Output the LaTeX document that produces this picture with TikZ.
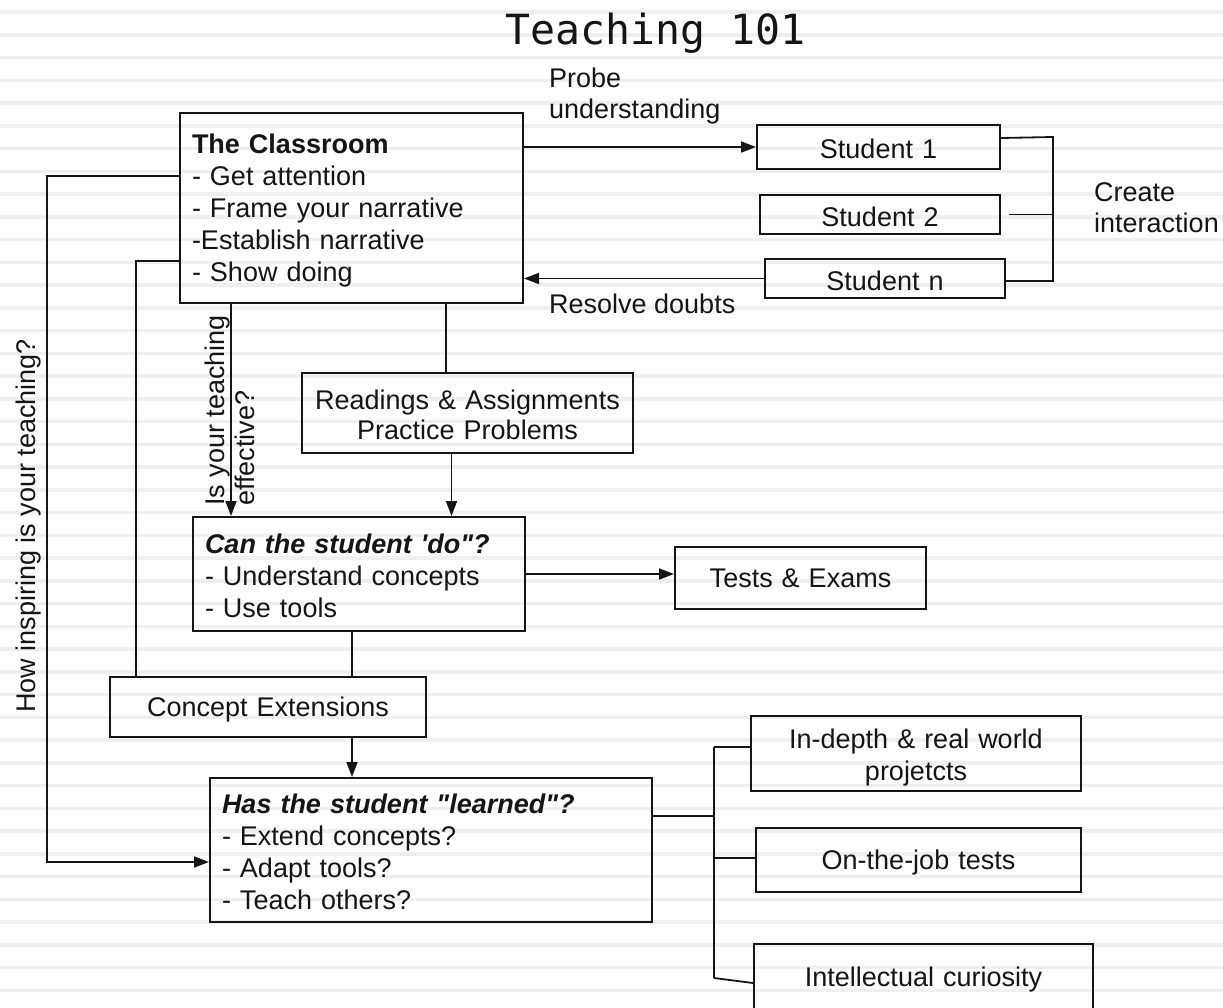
\documentclass[tikz,border=0pt]{standalone}
\usepackage{fontspec}
\newfontfamily\diagsans{Liberation Sans}
\newfontfamily\titlemono{DejaVu Sans Mono}
\usetikzlibrary{arrows.meta}
\definecolor{ink}{HTML}{151515}
\definecolor{ruling}{HTML}{EFEFEF}
\begin{document}
\begin{tikzpicture}[x=1pt,y=-1pt,
  every node/.style={font=\diagsans\fontsize{27}{32}\selectfont, text=ink},
  box/.style={draw=ink, line width=2pt, inner xsep=12pt, inner ysep=0pt, text height=24pt},
  link/.style={draw=ink, line width=1.8pt},
  arr/.style={link, -{Triangle[length=15pt,width=11pt]}},
  label/.style={inner sep=0pt}]

% page and ruled paper
\useasboundingbox (0,0) rectangle (1223,1007);
\clip (0,0) rectangle (1223,1007);
\fill[white] (0,0) rectangle (1223,1007);
\foreach \k in {0,...,43}
  \draw[ruling, line width=3.5pt] (0,12+22.75*\k) -- (1223,12+22.75*\k);

% title
\node[label, anchor=base, font=\titlemono\fontsize{41.5}{48}\selectfont] (title) at (655.5,44) {Teaching 101};

% boxes
\node[box, align=left, text width=319pt, minimum height=190pt] (classroom) at (351.5,208)
  {\textbf{The Classroom}\\- Get attention\\- Frame your narrative\\-Establish narrative\\- Show doing};
\node[box, align=center, text width=219pt, minimum height=44pt] (s1) at (878.5,147) {Student 1};
\node[box, align=center, text width=216pt, minimum height=39pt] (s2) at (880,214.5) {Student 2};
\node[box, align=center, text width=216pt, minimum height=39pt] (sn) at (885,278.5) {Student n};
\node[box, align=center, text width=307pt, minimum height=80pt,
      font=\diagsans\fontsize{27}{30}\selectfont] (readings) at (467.5,413)
  {Readings \& Assignments\\Practice Problems};
\node[box, align=left, text width=308pt, minimum height=114pt] (cando) at (359,574)
  {\textbf{\textit{Can the student 'do"?}}\\- Understand concepts\\- Use tools};
\node[box, align=center, text width=227pt, minimum height=62pt, text height=20pt] (tests) at (800.5,578) {Tests \& Exams};
\node[box, align=center, text width=292pt, minimum height=60pt] (concept) at (268,707) {Concept Extensions};
\node[box, align=left, text width=418pt, minimum height=144pt] (learned) at (431,850)
  {\textbf{\textit{Has the student "learned"?}}\\- Extend concepts?\\- Adapt tools?\\- Teach others?};
\node[box, align=center, text width=306pt, minimum height=75pt, text height=27pt] (indepth) at (916,753.5)
  {In-depth \& real world\\projetcts};
\node[box, align=center, text width=301pt, minimum height=64pt, text height=25pt] (onjob) at (918.5,860) {On-the-job tests};
\node[box, align=center, text width=315pt, minimum height=66pt, text height=25pt] (curiosity) at (923.5,977) {Intellectual curiosity};

% free labels
\node[label, anchor=north west, align=left, font=\diagsans\fontsize{27}{31}\selectfont] (probe) at (549,68) {Probe\\understanding};
\node[label, anchor=north west] (resolve) at (549,294) {Resolve doubts};
\node[label, anchor=west, align=left, font=\diagsans\fontsize{27}{31}\selectfont] (interact) at (1094,208) {Create\\interaction};
\node[label, rotate=90, anchor=north west, align=left, font=\diagsans\fontsize{27}{30}\selectfont] (effq) at (205,506)
  {Is your teaching\\effective?};
\node[label, rotate=90, anchor=base] (inspire) at (35,526) {How inspiring is your teaching?};

% classroom and students
\draw[arr] (classroom.east |- s1.west) -- (s1.west);
\draw[arr] (sn.west) -- (classroom.east |- sn.west);
\coordinate (bt) at (1053,137);
\coordinate (bb) at (1053,281);
\draw[link] ([yshift=9pt]s1.east) -- (bt) -- (bb) -- (sn.east |- bb);
\draw[link] ([xshift=8pt]s2.east) -- (s2.east -| bt);

% feedback loops on the left
\coordinate (oc) at (47,176);
\coordinate (ob) at (47,862);
\draw[arr] ([yshift=32pt]classroom.west) -- (oc) -- (ob) -- (learned.west |- ob);
\coordinate (ic) at (136,261);
\draw[link] (classroom.west |- ic) -- (ic) -- (ic |- concept.north);

% main flow
\draw[link] ([xshift=94.5pt]classroom.south) -- ([xshift=94.5pt]classroom.south |- readings.north);
\draw[arr] ([xshift=-16pt]readings.south) -- ([xshift=-16pt]readings.south |- cando.north);
\draw[arr] ([xshift=-120.5pt]classroom.south) -- ([xshift=-120.5pt]classroom.south |- cando.north);
\draw[arr] (cando.east) -- (cando.east -| tests.west);
\draw[link] ([xshift=-7pt]cando.south) -- ([xshift=-7pt]cando.south |- concept.north);
\draw[arr] ([xshift=84pt]concept.south) -- ([xshift=84pt]concept.south |- learned.north);

% outcomes bracket
\coordinate (lt) at (714,747);
\coordinate (lm) at (714,816);
\coordinate (lj) at (714,858);
\coordinate (lb) at (714,978);
\draw[link] ([yshift=34pt]learned.east) -- (lm);
\draw[link] (lt) -- (lb);
\draw[link] (lt) -- (indepth.west |- lt);
\draw[link] (lj) -- (onjob.west |- lj);
\draw[link] (lb) -- ([yshift=-6pt]curiosity.west);
\end{tikzpicture}
\end{document}
